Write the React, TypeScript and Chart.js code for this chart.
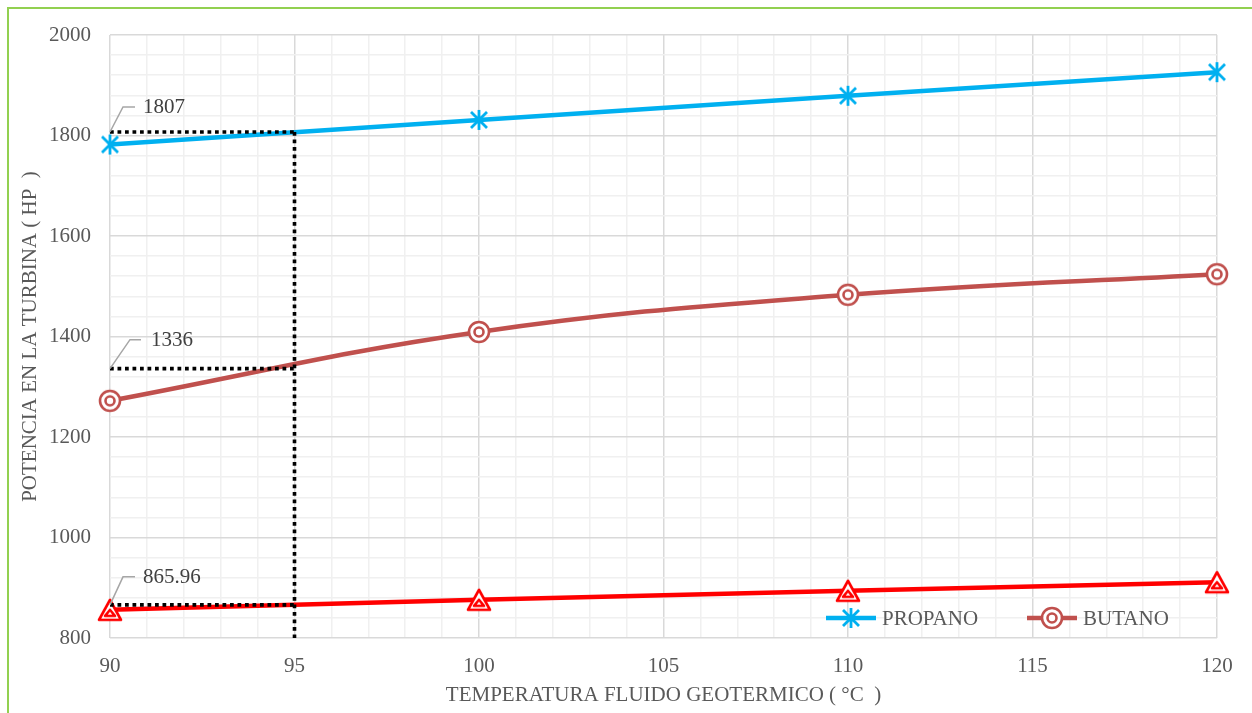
import { useEffect, useRef } from 'react';
import { Chart, registerables } from 'chart.js';
Chart.register(...registerables);

// ---- data ----
const temps = [90, 100, 110, 120];
const propano = [1782, 1831, 1879, 1926];
const butano = [1272, 1409, 1483, 1524];
const tercera = [856, 876, 894, 911];
const refTemp = 95;
const refValues = [1807, 1336, 865.96];
const refLabels = ['1807', '1336', '865.96'];
const xTickLabels = [90, 95, 100, 105, 110, 115, 120];
const yTickLabels = [800, 1000, 1200, 1400, 1600, 1800, 2000];
const seriesNames = ['PROPANO', 'BUTANO'];

const FONT = '"Liberation Serif", "Times New Roman", serif';
const BLUE = '#00b0f0';
const BROWN = '#c0504d';
const RED = '#ff0000';

function makeMarker(kind: string): HTMLCanvasElement {
  const s = 30;
  const c = document.createElement('canvas');
  c.width = s;
  c.height = s;
  const g = c.getContext('2d')!;
  g.translate(s / 2, s / 2);
  g.lineWidth = 2.6;
  g.lineJoin = 'round';
  if (kind === 'star') {
    g.strokeStyle = BLUE;
    g.lineWidth = 2.8;
    const d = 8;
    g.beginPath();
    g.moveTo(-d, -d); g.lineTo(d, d);
    g.moveTo(d, -d); g.lineTo(-d, d);
    g.moveTo(0, -10); g.lineTo(0, 10);
    g.stroke();
  } else if (kind === 'ring') {
    g.strokeStyle = BROWN;
    g.fillStyle = '#ffffff';
    g.beginPath();
    g.arc(0, 0, 10, 0, Math.PI * 2);
    g.fill();
    g.stroke();
    g.beginPath();
    g.arc(0, 0, 4.5, 0, Math.PI * 2);
    g.stroke();
  } else {
    g.strokeStyle = RED;
    g.fillStyle = '#ffffff';
    g.beginPath();
    g.moveTo(0, -10); g.lineTo(11, 10); g.lineTo(-11, 10); g.closePath();
    g.fill();
    g.stroke();
    g.beginPath();
    g.moveTo(0, 0); g.lineTo(5, 6); g.lineTo(-5, 6); g.closePath();
    g.stroke();
  }
  return c;
}

export default function App() {
  const ref = useRef<HTMLCanvasElement | null>(null);
  useEffect(() => {
    if (!ref.current) return;
    const star = makeMarker('star');
    const ring = makeMarker('ring');
    const tri = makeMarker('tri');
    const pts = (ys: number[]) => temps.map((x, i) => ({ x, y: ys[i] }));
    const dotted = {
      borderColor: '#000000',
      borderWidth: 3.6,
      borderDash: [3.75, 3.75],
      pointRadius: 0,
      tension: 0,
      fill: false,
      clip: false,
    };
    const datasets: any[] = [
      { label: 'vref', data: [{ x: refTemp, y: refValues[0] }, { x: refTemp, y: 800 }], ...dotted },
      ...refValues.map((v, i) => ({ label: 'href' + i, data: [{ x: 90, y: v }, { x: refTemp, y: v }], ...dotted })),
      { label: seriesNames[0], data: pts(propano), borderColor: BLUE, borderWidth: 4.5, pointStyle: star, pointRadius: 10, tension: 0, clip: false },
      { label: seriesNames[1], data: pts(butano), borderColor: BROWN, borderWidth: 4.5, pointStyle: ring, pointRadius: 10, tension: 0.4, clip: false },
      { label: 'tercera', data: pts(tercera), borderColor: RED, borderWidth: 4.5, pointStyle: tri, pointRadius: 10, tension: 0.2, clip: false },
    ];

    const annot = {
      id: 'annot',
      afterDatasetsDraw(chart: any) {
        const { ctx, scales } = chart;
        const offs = [
          { dx1: 13, dy: -25, dx2: 25, tx: 33 },
          { dx1: 20, dy: -29, dx2: 31, tx: 41 },
          { dx1: 13, dy: -28, dx2: 25, tx: 33 },
        ];
        ctx.save();
        refValues.forEach((v, i) => {
          const x0 = scales.x.getPixelForValue(90);
          const y0 = scales.y.getPixelForValue(v);
          const o = offs[i];
          ctx.strokeStyle = '#a6a6a6';
          ctx.lineWidth = 1.5;
          ctx.beginPath();
          ctx.moveTo(x0, y0);
          ctx.lineTo(x0 + o.dx1, y0 + o.dy);
          ctx.lineTo(x0 + o.dx2, y0 + o.dy);
          ctx.stroke();
          ctx.fillStyle = '#404040';
          ctx.font = '21px ' + FONT;
          ctx.textAlign = 'left';
          ctx.textBaseline = 'middle';
          ctx.fillText(refLabels[i], x0 + o.tx, y0 + o.dy + 1);
        });
        ctx.restore();
      },
      afterDraw(chart: any) {
        const { ctx, chartArea } = chart;
        const y = chartArea.bottom - 20;
        const items = [
          { label: seriesNames[0], color: BLUE, marker: star, x: chartArea.right - 391 },
          { label: seriesNames[1], color: BROWN, marker: ring, x: chartArea.right - 190 },
        ];
        ctx.save();
        items.forEach((it) => {
          ctx.strokeStyle = it.color;
          ctx.lineWidth = 4.5;
          ctx.beginPath();
          ctx.moveTo(it.x, y);
          ctx.lineTo(it.x + 50, y);
          ctx.stroke();
          ctx.drawImage(it.marker, it.x + 25 - 15, y - 15);
          ctx.fillStyle = '#595959';
          ctx.font = '21px ' + FONT;
          ctx.textAlign = 'left';
          ctx.textBaseline = 'middle';
          ctx.fillText(it.label, it.x + 56, y + 1);
        });
        ctx.restore();
      },
    };

    const chart = new Chart(ref.current, {
      type: 'line',
      data: { datasets },
      plugins: [annot],
      options: {
        animation: false,
        responsive: false,
        devicePixelRatio: 1,
        layout: { padding: { left: 0, right: 35, top: 35, bottom: 0 } },
        plugins: { legend: { display: false }, tooltip: { enabled: false } },
        scales: {
          x: {
            type: 'linear',
            min: 90,
            max: 120,
            afterFit: (s: any) => { s.height = 75; },
            border: { display: false },
            grid: {
              drawTicks: false,
              lineWidth: 1.5,
              color: (c: any) => (xTickLabels.includes(c.tick?.value) ? '#d9d9d9' : '#f0f0f0'),
            },
            ticks: {
              stepSize: 1,
              autoSkip: false,
              maxRotation: 0,
              padding: 16,
              color: '#595959',
              font: { family: FONT, size: 21 },
              callback: (v: any) => (xTickLabels.includes(v) ? String(v) : ''),
            },
            title: {
              display: true,
              text: 'TEMPERATURA FLUIDO GEOTERMICO ( °C  )',
              color: '#595959',
              font: { family: FONT, size: 21 },
              padding: { top: 0, bottom: 4.5 },
            },
          },
          y: {
            min: 800,
            max: 2000,
            afterFit: (s: any) => { s.width = 110; },
            border: { display: false },
            grid: {
              drawTicks: false,
              lineWidth: 1.5,
              color: (c: any) => (yTickLabels.includes(c.tick?.value) ? '#d9d9d9' : '#f0f0f0'),
            },
            ticks: {
              stepSize: 40,
              autoSkip: false,
              padding: 19,
              color: '#595959',
              font: { family: FONT, size: 21 },
              callback: (v: any) => (yTickLabels.includes(v) ? String(v) : ''),
            },
            title: {
              display: true,
              text: 'POTENCIA EN LA TURBINA ( HP  )',
              color: '#595959',
              font: { family: FONT, size: 21 },
              padding: { top: 18, bottom: 0 },
            },
          },
        },
      },
    });
    return () => chart.destroy();
  }, []);

  return (
    <div style={{ position: 'fixed', left: 0, top: 0, width: 1252, height: 713, overflow: 'hidden', background: '#fff' }}>
      <div style={{ position: 'absolute', left: 7, top: 7, width: 1400, height: 900, borderLeft: '2px solid #92d050', borderTop: '2px solid #92d050' }} />
      <canvas ref={ref} width={1252} height={713} style={{ position: 'absolute', left: 0, top: 0 }} />
    </div>
  );
}
